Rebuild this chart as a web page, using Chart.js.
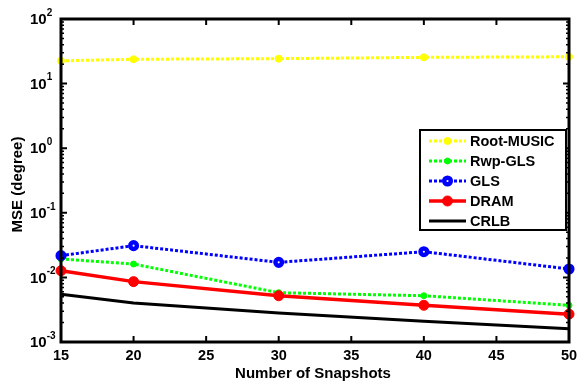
<!DOCTYPE html>
<html lang="en">
  <head>
    <meta charset="UTF-8" />
    <title>MSE vs Number of Snapshots</title>
    <script src="https://cdn.jsdelivr.net/npm/chart.js"></script>
    <style>
      body {
        margin: 0;
        background: #fff;
      }
      .chart-container {
        width: 580px;
        height: 385px;
        position: relative;
      }
    </style>
  </head>
  <body>
    <div class="chart-container">
      <canvas id="mseChart"></canvas>
    </div>

    <script>
      const snapshots = [15, 20, 30, 40, 50];
      const rootMusic = [22.5, 23.8, 24.3, 25.5, 26];
      const rwpGls = [0.0193, 0.0161, 0.0058, 0.0052, 0.0037];
      const gls = [0.0217, 0.031, 0.0171, 0.025, 0.0135];
      const dram = [0.0127, 0.0086, 0.0052, 0.0037, 0.0027];
      const crlb = [0.0055, 0.004, 0.0028, 0.0021, 0.0016];
      const xTicks = [15, 20, 25, 30, 35, 40, 45, 50];
      const yExponents = [-3, -2, -1, 0, 1, 2];

      const FONT = "'Liberation Sans', Arial, sans-serif";

      function toPoints(values) {
        return values.map((v, i) => ({ x: snapshots[i], y: v }));
      }

      const series = [
        { label: "Root-MUSIC", values: rootMusic, color: "#ffff00", dash: [3, 2], width: 3, radius: 3.5, border: 1, fill: "#ffff00", order: 5 },
        { label: "Rwp-GLS", values: rwpGls, color: "#00ff00", dash: [3, 2], width: 3, radius: 3, border: 1, fill: "#00ff00", order: 4 },
        { label: "GLS", values: gls, color: "#0000ff", dash: [3, 2], width: 3, radius: 3.3, border: 4.5, fill: "#ffffff", order: 3 },
        { label: "DRAM", values: dram, color: "#ff0000", dash: [], width: 3.5, radius: 5, border: 1, fill: "#ff0000", order: 2 },
        { label: "CRLB", values: crlb, color: "#000000", dash: [], width: 3, radius: 0, border: 0, fill: "#000000", order: 1 },
      ];

      const framePlugin = {
        id: "frame",
        afterDatasetsDraw(chart) {
          const { ctx, chartArea: a, scales } = chart;
          const xs = scales.x;
          const ys = scales.y;
          ctx.save();
          ctx.strokeStyle = "#000";
          ctx.fillStyle = "#000";

          // ticks
          ctx.lineWidth = 2;
          ctx.beginPath();
          xTicks.forEach((t) => {
            const px = xs.getPixelForValue(t);
            ctx.moveTo(px, a.bottom);
            ctx.lineTo(px, a.bottom - 6);
            ctx.moveTo(px, a.top);
            ctx.lineTo(px, a.top + 6);
          });
          yExponents.forEach((e) => {
            const py = ys.getPixelForValue(Math.pow(10, e));
            ctx.moveTo(a.left, py);
            ctx.lineTo(a.left + 6, py);
            ctx.moveTo(a.right, py);
            ctx.lineTo(a.right - 6, py);
          });
          ctx.stroke();
          ctx.lineWidth = 1.5;
          ctx.beginPath();
          yExponents.slice(0, -1).forEach((e) => {
            for (let m = 2; m <= 9; m++) {
              const py = ys.getPixelForValue(m * Math.pow(10, e));
              ctx.moveTo(a.left, py);
              ctx.lineTo(a.left + 3, py);
              ctx.moveTo(a.right, py);
              ctx.lineTo(a.right - 3, py);
            }
          });
          ctx.stroke();

          // frame
          ctx.lineWidth = 3;
          ctx.strokeRect(a.left, a.top, a.right - a.left, a.bottom - a.top);

          // x tick labels
          ctx.font = "bold 14.5px " + FONT;
          ctx.textAlign = "center";
          ctx.textBaseline = "middle";
          xTicks.forEach((t) => {
            ctx.fillText(String(t), xs.getPixelForValue(t), a.bottom + 14);
          });
          ctx.font = "bold 15px " + FONT;
          ctx.fillText("Number of Snapshots", (a.left + a.right) / 2 - 2, a.bottom + 32);

          // y tick labels 10^e
          yExponents.forEach((e) => {
            const py = ys.getPixelForValue(Math.pow(10, e));
            ctx.font = "bold 15px " + FONT;
            ctx.textAlign = "left";
            ctx.fillText("10", 30, py + 1);
            const w = ctx.measureText("10").width;
            ctx.font = "bold 10px " + FONT;
            ctx.fillText(String(e), 30 + w, py - 6);
          });

          // y title
          ctx.save();
          ctx.translate(18, (a.top + a.bottom) / 2 + 4);
          ctx.rotate(-Math.PI / 2);
          ctx.font = "bold 15px " + FONT;
          ctx.textAlign = "center";
          ctx.fillText("MSE (degree)", 0, 0);
          ctx.restore();

          // legend
          const lx = 420, ly = 130, lw = 146, lh = 100;
          ctx.fillStyle = "#fff";
          ctx.fillRect(lx, ly, lw, lh);
          ctx.lineWidth = 2;
          ctx.strokeRect(lx, ly, lw, lh);
          series.forEach((s, i) => {
            const rowY = ly + 11 + i * 20;
            ctx.strokeStyle = s.color;
            ctx.lineWidth = s.width;
            ctx.setLineDash(s.dash);
            ctx.beginPath();
            ctx.moveTo(429, rowY);
            ctx.lineTo(466, rowY);
            ctx.stroke();
            ctx.setLineDash([]);
            if (s.radius > 0) {
              ctx.beginPath();
              ctx.arc(447.5, rowY, s.radius, 0, Math.PI * 2);
              ctx.fillStyle = s.fill;
              ctx.fill();
              ctx.lineWidth = s.border;
              ctx.stroke();
            }
            ctx.fillStyle = "#000";
            ctx.font = "bold 14.5px " + FONT;
            ctx.textAlign = "left";
            ctx.fillText(s.label, 470, rowY + 1);
          });
          ctx.restore();
        },
      };

      new Chart(document.getElementById("mseChart"), {
        type: "line",
        data: {
          datasets: series.map((s) => ({
            label: s.label,
            data: toPoints(s.values),
            borderColor: s.color,
            borderWidth: s.width,
            borderDash: s.dash,
            pointRadius: s.radius,
            pointBorderWidth: s.border,
            pointBackgroundColor: s.fill,
            pointBorderColor: s.color,
            fill: false,
            tension: 0,
            clip: false,
            order: s.order,
          })),
        },
        options: {
          responsive: true,
          maintainAspectRatio: false,
          animation: false,
          layout: {
            padding: { left: 61, right: 11, top: 19, bottom: 43 },
          },
          plugins: {
            legend: { display: false },
            tooltip: { enabled: false },
          },
          scales: {
            x: {
              type: "linear",
              min: 15,
              max: 50,
              display: false,
            },
            y: {
              type: "logarithmic",
              min: 0.001,
              max: 100,
              display: false,
            },
          },
        },
        plugins: [framePlugin],
      });
    </script>
  </body>
</html>
